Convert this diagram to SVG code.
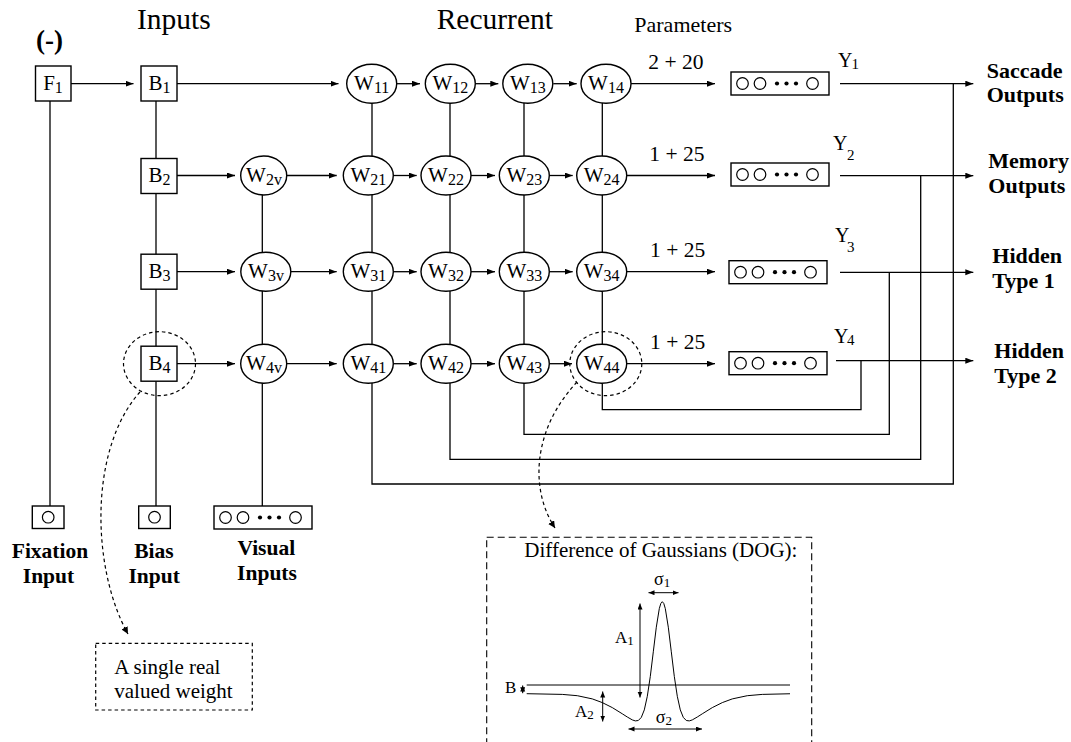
<svg xmlns="http://www.w3.org/2000/svg" xmlns:xlink="http://www.w3.org/1999/xlink" width="1071" height="742" viewBox="0 0 1071 742">
<defs>
<style>
.ln{stroke:#000;stroke-width:1.3;fill:none}
.ar{marker-end:url(#ah)}
.box{fill:#fff;stroke:#000;stroke-width:1.4}
.nd{fill:#fff;stroke:#000;stroke-width:1.4}
.ds{fill:none;stroke:#000;stroke-width:1.2;stroke-dasharray:3.5 3}
.t{font-family:"Liberation Serif","Times New Roman",Times,serif;fill:#000}
.b{font-weight:bold}
.lbl{font-size:21px;text-anchor:middle}
.dog{stroke:#000;stroke-width:1;fill:none}
.da{stroke:#000;stroke-width:1;fill:none;marker-start:url(#sa);marker-end:url(#sa)}
</style>
<marker id="ah" markerUnits="userSpaceOnUse" markerWidth="9" markerHeight="7" refX="8" refY="3" orient="auto"><path d="M0,0 L8,3 L0,6 z" fill="#000"/></marker>
<marker id="dh" markerUnits="userSpaceOnUse" markerWidth="9" markerHeight="8" refX="7" refY="3.5" orient="auto"><path d="M0,0 L7,3.5 L0,7 z" fill="#000"/></marker>
<marker id="sa" markerUnits="userSpaceOnUse" markerWidth="7" markerHeight="6" refX="6" refY="2.5" orient="auto-start-reverse"><path d="M0,0 L6,2.5 L0,5 z" fill="#000"/></marker>
<g id="vec">
<rect x="0" y="0" width="98" height="23" class="box"/>
<circle cx="11.5" cy="11.5" r="5.8" fill="none" stroke="#000" stroke-width="1.2"/>
<circle cx="29" cy="11.5" r="5.8" fill="none" stroke="#000" stroke-width="1.2"/>
<circle cx="46" cy="11.5" r="2.1" fill="#000"/>
<circle cx="55.5" cy="11.5" r="2.1" fill="#000"/>
<circle cx="65" cy="11.5" r="2.1" fill="#000"/>
<circle cx="81.5" cy="11.5" r="5.8" fill="none" stroke="#000" stroke-width="1.2"/>
</g>
</defs>
<rect width="1071" height="742" fill="#fff"/>

<!-- headings -->
<g id="headings" class="t">
<text x="36" y="48.5" font-size="27" class="b">(-)</text>
<text x="137" y="29.3" font-size="29.5">Inputs</text>
<text x="436.7" y="29.3" font-size="29.5">Recurrent</text>
<text x="634.3" y="32.3" font-size="22">Parameters</text>
<text x="648.3" y="69" font-size="21.5">2 + 20</text>
<text x="649.3" y="160.7" font-size="21.5">1 + 25</text>
<text x="650" y="256.7" font-size="21.5">1 + 25</text>
<text x="650" y="349" font-size="21.5">1 + 25</text>
</g>

<!-- connectors -->
<g id="connectors">
<path class="ln" d="M50,101 V506"/>
<path class="ln" d="M156,101 V506"/>
<path class="ln" d="M262.3,190 V506"/>
<path class="ln" d="M372,100 V484 H953.3 V83.7"/>
<path class="ln" d="M450,100 V459.3 H920.7 V175.7"/>
<path class="ln" d="M524,100 V434.3 H889.3 V272.3"/>
<path class="ln" d="M602.3,100 V409.7 H861 V360.7"/>
<path class="ln ar" d="M71,83.7 H133.5"/>
<path class="ln ar" d="M177,83.7 H338.5"/>
<path class="ln ar" d="M396.7,83.7 H420"/>
<path class="ln ar" d="M475.3,83.7 H498.3"/>
<path class="ln ar" d="M553.3,83.7 H576.7"/>
<path class="ln ar" d="M631,83.7 H715"/>
<path class="ln ar" d="M177,175.5 H235"/>
<path class="ln ar" d="M286.7,175.5 H336.7"/>
<path class="ln ar" d="M393.3,175.5 H416.7"/>
<path class="ln ar" d="M471,175.5 H495"/>
<path class="ln ar" d="M549.3,175.5 H572.7"/>
<path class="ln ar" d="M626.7,175.5 H715"/>
<path class="ln ar" d="M177,271.7 H235"/>
<path class="ln ar" d="M291,271.7 H336.7"/>
<path class="ln ar" d="M393.3,271.7 H416.7"/>
<path class="ln ar" d="M471,271.7 H495"/>
<path class="ln ar" d="M549.3,271.7 H572.7"/>
<path class="ln ar" d="M626.7,271.7 H715"/>
<path class="ln ar" d="M177,363.7 H235"/>
<path class="ln ar" d="M286.7,363.7 H336.7"/>
<path class="ln ar" d="M393.3,363.7 H416.7"/>
<path class="ln ar" d="M471,363.7 H495"/>
<path class="ln ar" d="M549.3,363.7 H572"/>
<path class="ln ar" d="M626.7,363.7 H715"/>
<path class="ln ar" d="M840,83.7 H973.3"/>
<path class="ln ar" d="M840,175.7 H973.3"/>
<path class="ln ar" d="M840,272.3 H973.3"/>
<path class="ln ar" d="M836,360.7 H973.3"/>
<path class="ds" d="M140,392 C88,450 92,570 128,634" marker-end="url(#dh)"/>
<path class="ds" d="M577,382 C532,430 530,490 555,528" marker-end="url(#dh)"/>
</g>

<!-- input nodes -->
<g id="F1"><rect x="35.5" y="66" width="35.5" height="35" class="box"/><text x="53" y="90" class="t lbl">F<tspan font-size="16" dy="2.5">1</tspan></text></g>
<g id="B1"><rect x="141" y="66" width="36" height="35" class="box"/><text x="159.5" y="90" class="t lbl">B<tspan font-size="16" dy="2.5">1</tspan></text></g>
<g id="B2"><rect x="141" y="158.5" width="36" height="35" class="box"/><text x="159.5" y="182" class="t lbl">B<tspan font-size="16" dy="2.5">2</tspan></text></g>
<g id="B3"><rect x="141" y="254.2" width="36" height="35" class="box"/><text x="159.5" y="278.2" class="t lbl">B<tspan font-size="16" dy="2.5">3</tspan></text></g>
<g id="B4"><rect x="141" y="346.2" width="36" height="35" class="box"/><text x="159.5" y="370.2" class="t lbl">B<tspan font-size="16" dy="2.5">4</tspan></text></g>

<g id="W2v"><ellipse cx="263.7" cy="175.5" rx="23" ry="19.5" class="nd"/><text x="264" y="182" class="t lbl">W<tspan font-size="16" dy="2.5">2v</tspan></text></g>
<g id="W3v"><ellipse cx="265.8" cy="271.7" rx="25" ry="19.5" class="nd"/><text x="266" y="278.2" class="t lbl">W<tspan font-size="16" dy="2.5">3v</tspan></text></g>
<g id="W4v"><ellipse cx="263.7" cy="363.7" rx="23" ry="19.5" class="nd"/><text x="264" y="370.2" class="t lbl">W<tspan font-size="16" dy="2.5">4v</tspan></text></g>

<!-- recurrent nodes -->
<g id="W11"><ellipse cx="371.7" cy="83.7" rx="25" ry="19.5" class="nd"/><text x="371.7" y="90.2" class="t lbl">W<tspan font-size="16" dy="2.5">11</tspan></text></g>
<g id="W12"><ellipse cx="450.3" cy="83.7" rx="25" ry="19.5" class="nd"/><text x="450.3" y="90.2" class="t lbl">W<tspan font-size="16" dy="2.5">12</tspan></text></g>
<g id="W13"><ellipse cx="527.8" cy="83.7" rx="25" ry="19.5" class="nd"/><text x="527.8" y="90.2" class="t lbl">W<tspan font-size="16" dy="2.5">13</tspan></text></g>
<g id="W14"><ellipse cx="606" cy="83.7" rx="25" ry="19.5" class="nd"/><text x="606" y="90.2" class="t lbl">W<tspan font-size="16" dy="2.5">14</tspan></text></g>

<g id="W21"><ellipse cx="368.3" cy="175.5" rx="25" ry="19.5" class="nd"/><text x="368.3" y="182" class="t lbl">W<tspan font-size="16" dy="2.5">21</tspan></text></g>
<g id="W22"><ellipse cx="446" cy="175.5" rx="25" ry="19.5" class="nd"/><text x="446" y="182" class="t lbl">W<tspan font-size="16" dy="2.5">22</tspan></text></g>
<g id="W23"><ellipse cx="524.3" cy="175.5" rx="25" ry="19.5" class="nd"/><text x="524.3" y="182" class="t lbl">W<tspan font-size="16" dy="2.5">23</tspan></text></g>
<g id="W24"><ellipse cx="601.7" cy="175.5" rx="25" ry="19.5" class="nd"/><text x="601.7" y="182" class="t lbl">W<tspan font-size="16" dy="2.5">24</tspan></text></g>

<g id="W31"><ellipse cx="368.3" cy="271.7" rx="25" ry="19.5" class="nd"/><text x="368.3" y="278.2" class="t lbl">W<tspan font-size="16" dy="2.5">31</tspan></text></g>
<g id="W32"><ellipse cx="446" cy="271.7" rx="25" ry="19.5" class="nd"/><text x="446" y="278.2" class="t lbl">W<tspan font-size="16" dy="2.5">32</tspan></text></g>
<g id="W33"><ellipse cx="524.3" cy="271.7" rx="25" ry="19.5" class="nd"/><text x="524.3" y="278.2" class="t lbl">W<tspan font-size="16" dy="2.5">33</tspan></text></g>
<g id="W34"><ellipse cx="601.7" cy="271.7" rx="25" ry="19.5" class="nd"/><text x="601.7" y="278.2" class="t lbl">W<tspan font-size="16" dy="2.5">34</tspan></text></g>

<g id="W41"><ellipse cx="368.3" cy="363.7" rx="25" ry="19.5" class="nd"/><text x="368.3" y="370.2" class="t lbl">W<tspan font-size="16" dy="2.5">41</tspan></text></g>
<g id="W42"><ellipse cx="446" cy="363.7" rx="25" ry="19.5" class="nd"/><text x="446" y="370.2" class="t lbl">W<tspan font-size="16" dy="2.5">42</tspan></text></g>
<g id="W43"><ellipse cx="524.3" cy="363.7" rx="25" ry="19.5" class="nd"/><text x="524.3" y="370.2" class="t lbl">W<tspan font-size="16" dy="2.5">43</tspan></text></g>
<g id="W44"><ellipse cx="601.7" cy="363.7" rx="25" ry="19.5" class="nd"/><text x="601.7" y="370.2" class="t lbl">W<tspan font-size="16" dy="2.5">44</tspan></text></g>

<!-- highlight circles -->
<g id="highlightB4"><ellipse cx="159.5" cy="363.7" rx="36" ry="32" class="ds"/></g>
<g id="highlightW44"><ellipse cx="605.8" cy="363.7" rx="36" ry="32" class="ds"/></g>

<!-- output vectors -->
<g id="Y1"><use xlink:href="#vec" href="#vec" x="731" y="72"/><text x="838" y="66.7" font-size="20" class="t">Y<tspan font-size="15" dx="-1" dy="1.8">1</tspan></text></g>
<g id="Y2"><use xlink:href="#vec" href="#vec" x="731" y="163"/><text x="833" y="149.5" font-size="20" class="t">Y<tspan font-size="15" dx="-0.5" dy="10.5">2</tspan></text></g>
<g id="Y3"><use xlink:href="#vec" href="#vec" x="729" y="260.7"/><text x="835" y="241.7" font-size="20" class="t">Y<tspan font-size="15" dx="-2.5" dy="10">3</tspan></text></g>
<g id="Y4"><use xlink:href="#vec" href="#vec" x="729" y="351.7"/><text x="834" y="343.3" font-size="20" class="t">Y<tspan font-size="15" dx="-1.5" dy="1.7">4</tspan></text></g>

<!-- output labels -->
<g id="out-saccade" class="t b" font-size="22"><text x="986.7" y="78.3">Saccade</text><text x="986.7" y="102.3">Outputs</text></g>
<g id="out-memory" class="t b" font-size="22"><text x="988.3" y="168.3">Memory</text><text x="988.3" y="193.3">Outputs</text></g>
<g id="out-hidden1" class="t b" font-size="22"><text x="992.3" y="262.5">Hidden</text><text x="992.3" y="287.5">Type 1</text></g>
<g id="out-hidden2" class="t b" font-size="22"><text x="994.3" y="357.5">Hidden</text><text x="994.3" y="382.5">Type 2</text></g>

<!-- input sources -->
<g id="fixation-input"><rect x="32.3" y="506" width="31.7" height="22.5" class="box"/><circle cx="48.2" cy="517.2" r="5.8" fill="none" stroke="#000" stroke-width="1.2"/>
<text x="50" y="558.3" class="t b lbl" style="font-size:21.5px">Fixation</text><text x="48.5" y="582.7" class="t b lbl" style="font-size:21.5px">Input</text></g>
<g id="bias-input"><rect x="138.7" y="506" width="31.6" height="22.5" class="box"/><circle cx="154.5" cy="517.2" r="5.8" fill="none" stroke="#000" stroke-width="1.2"/>
<text x="154" y="558.3" class="t b lbl" style="font-size:21.5px">Bias</text><text x="154.2" y="582.7" class="t b lbl" style="font-size:21.5px">Input</text></g>
<g id="visual-inputs"><use xlink:href="#vec" href="#vec" x="214" y="506"/>
<text x="266.3" y="555" class="t b lbl" style="font-size:21.5px">Visual</text><text x="267" y="580" class="t b lbl" style="font-size:21.5px">Inputs</text></g>

<!-- annotation: single weight -->
<g id="note-weight"><rect x="95.7" y="643.3" width="156.6" height="66.7" class="ds" stroke-dasharray="3 2.5"/>
<text x="114.3" y="674" font-size="21" class="t">A single real</text><text x="114.3" y="698" font-size="21" class="t">valued weight</text></g>

<!-- annotation: DOG -->
<g id="note-dog">
<rect x="486.7" y="537.3" width="325" height="230" fill="none" stroke="#000" stroke-width="1.1" stroke-dasharray="7 4"/>
<text x="524.3" y="556.7" font-size="21" class="t">Difference of Gaussians (DOG):</text>
<text x="654" y="585" font-size="18" class="t">σ<tspan font-size="13" dy="2">1</tspan></text>
<path class="da" d="M648.5,592.7 H678.5"/>
<path class="dog" d="M526.7,685 H790"/>
<polyline class="dog" stroke-width="1.1" stroke-linejoin="round" points="526.7,693.7 562.3,694.4 577.3,695.7 592.3,698.9 602.3,702.6 612.3,707.6 622.3,713.8 627.3,717 632.3,719.9 635.3,720.9 638.3,720.5 641.3,717.4 644.3,709.9 647.3,696.3 650.3,676.4 653.3,651.8 656.3,627.2 659.3,608.6 660.8,603.5 662.3,601.7 663.8,603.5 665.3,608.6 668.3,627.2 671.3,651.8 674.3,676.4 677.3,696.3 680.3,709.9 683.3,717.4 686.3,720.5 689.3,720.9 692.3,719.9 697.3,717 702.3,713.8 712.3,707.6 722.3,702.6 732.3,698.9 747.3,695.7 762.3,694.4 790,693.75"/>
<text x="505" y="693.3" font-size="17" class="t">B</text>
<path class="da" d="M522.7,685.5 V693.2"/>
<path class="da" d="M640,603.5 V697.5"/>
<text x="615" y="642.7" font-size="17" class="t">A<tspan font-size="13" dy="2">1</tspan></text>
<path class="da" d="M602.7,691.5 V721.5"/>
<text x="575" y="716.7" font-size="17" class="t">A<tspan font-size="13" dy="2">2</tspan></text>
<text x="655.7" y="723" font-size="18" class="t">σ<tspan font-size="13" dy="2">2</tspan></text>
<path class="da" d="M628.5,729 H702"/>
</g>
</svg>
